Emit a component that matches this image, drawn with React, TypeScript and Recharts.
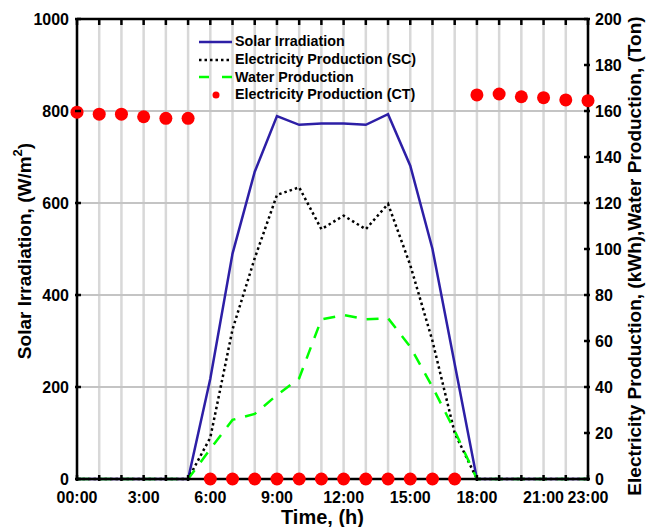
import { LineChart, Line, XAxis, YAxis, CartesianGrid, Legend, Label, ReferenceLine } from "recharts";

const hours = [0, 1, 2, 3, 4, 5, 6, 7, 8, 9, 10, 11, 12, 13, 14, 15, 16, 17, 18, 19, 20, 21, 22, 23];
const solarIrradiation = [0, 0, 0, 0, 0, 0, 218, 490, 668, 789, 770, 773, 773, 770, 793, 681, 500, 250, 0, 0, 0, 0, 0, 0];
const electricitySC = [0, 0, 0, 0, 0, 0, 18, 65, 96, 123.5, 126.8, 108.6, 114.5, 108.6, 119.6, 93, 60, 20, 0, 0, 0, 0, 0, 0];
const waterProduction = [0, 0, 0, 0, 0, 0, 13, 25.7, 28.3, 36.5, 43.8, 69.4, 71.3, 69.4, 69.9, 57.5, 40, 21, 0, 0, 0, 0, 0, 0];
const electricityCT = [159.5, 158.6, 158.6, 157.5, 156.8, 156.8, 0, 0, 0, 0, 0, 0, 0, 0, 0, 0, 0, 0, 167, 167.4, 166.2, 165.8, 164.8, 164.5];

const xLabels: Record<number, string> = {
  0: "00:00", 3: "3:00", 6: "6:00", 9: "9:00", 12: "12:00", 15: "15:00", 18: "18:00", 21: "21:00", 23: "23:00",
};
const leftTicks = [0, 200, 400, 600, 800, 1000];
const rightTicks = [0, 20, 40, 60, 80, 100, 120, 140, 160, 180, 200];

const data = hours.map((h, i) => ({
  hour: h,
  solar: solarIrradiation[i],
  sc: electricitySC[i],
  water: waterProduction[i],
  ct: electricityCT[i],
}));

const FONT = "'Liberation Sans', Arial, sans-serif";
const MARGIN = { top: 19, right: 0, bottom: 0, left: 17 };

// ticks point inward, labels drawn by hand; the top frame ticks are drawn here too.
// axes paint over the series here, so skip the bottom tick where a CT marker sits on it
const BottomTick = (props: any) => {
  const { x, y, payload } = props;
  const label = xLabels[payload.value];
  const covered = electricityCT[payload.value] === 0;
  return (
    <g>
      {!covered && <line x1={x} x2={x} y1={y} y2={y - 6} stroke="#000" strokeWidth={2.5} />}
      <line x1={x} x2={x} y1={MARGIN.top} y2={MARGIN.top + 6} stroke="#000" strokeWidth={2.5} />
      {label && (
        <text x={x} y={y + 22} textAnchor="middle" fontFamily={FONT} fontWeight="bold" fontSize={16} fill="#000">
          {label}
        </text>
      )}
    </g>
  );
};

const LeftTick = (props: any) => {
  const { x, y, payload } = props;
  return (
    <g>
      <line x1={x} x2={x + 6} y1={y} y2={y} stroke="#000" strokeWidth={2.5} />
      <text x={x - 6} y={y} dy={6} textAnchor="end" fontFamily={FONT} fontWeight="bold" fontSize={16} fill="#000">
        {payload.value}
      </text>
    </g>
  );
};

const RightTick = (props: any) => {
  const { x, y, payload } = props;
  return (
    <g>
      <line x1={x} x2={x - 6} y1={y} y2={y} stroke="#000" strokeWidth={2.5} />
      <text x={x + 5} y={y} dy={6} textAnchor="start" fontFamily={FONT} fontWeight="bold" fontSize={16} fill="#000">
        {payload.value}
      </text>
    </g>
  );
};

const legendItems = [
  { name: "Solar Irradiation", kind: "solid", color: "#2d1fa6" },
  { name: "Electricity Production (SC)", kind: "dot", color: "#000" },
  { name: "Water Production", kind: "dash", color: "#00ff00" },
  { name: "Electricity Production (CT)", kind: "marker", color: "#ff0000" },
];

const renderLegend = () => (
  <div style={{ fontFamily: FONT, fontWeight: "bold", fontSize: 14.3, color: "#000", lineHeight: "17.8px", textAlign: "left" }}>
    {legendItems.map((it) => (
      <div key={it.name} style={{ display: "flex", alignItems: "center", height: 17.8 }}>
        <svg width={36} height={12} style={{ marginRight: 2 }}>
          {it.kind === "solid" && <line x1={2} x2={35} y1={6} y2={6} stroke={it.color} strokeWidth={2.5} />}
          {it.kind === "dot" && <line x1={2} x2={35} y1={6} y2={6} stroke={it.color} strokeWidth={2.5} strokeDasharray="2.5 3" />}
          {it.kind === "dash" && <line x1={2} x2={35} y1={6} y2={6} stroke={it.color} strokeWidth={2.5} strokeDasharray="10 13" />}
          {it.kind === "marker" && <circle cx={19} cy={6} r={3.5} fill={it.color} />}
        </svg>
        <span>{it.name}</span>
      </div>
    ))}
  </div>
);

export default function App() {
  return (
    <div style={{ position: "absolute", left: 0, top: 0, background: "#fff" }}>
      <LineChart width={646} height={527} data={data} margin={MARGIN}>
        {/* vertical grid every hour, horizontal grid on the left ticks */}
        <CartesianGrid horizontal={false} stroke="#d8d8d8" strokeWidth={2.5} yAxisId="left" />
        <CartesianGrid vertical={false} stroke="#c4c4c4" strokeWidth={2} yAxisId="left" />
        <XAxis
          dataKey="hour"
          type="number"
          domain={[0, 23]}
          ticks={hours}
          interval={0}
          height={48}
          tickSize={0}
          tickLine={false}
          tick={<BottomTick />}
          axisLine={{ stroke: "#000", strokeWidth: 2.5 }}
        >
          <Label
            content={(p: any) => (
              <text x={p.viewBox.x + p.viewBox.width / 2 - 10} y={524} textAnchor="middle" fontFamily={FONT} fontWeight="bold" fontSize={20} fill="#000">
                Time, (h)
              </text>
            )}
          />
        </XAxis>
        <YAxis
          yAxisId="left"
          domain={[0, 1000]}
          ticks={leftTicks}
          interval={0}
          width={60}
          tickSize={0}
          tickLine={false}
          tick={<LeftTick />}
          axisLine={{ stroke: "#000", strokeWidth: 2.5 }}
        >
          <Label
            content={(p: any) => {
              const cx = 24;
              const cy = p.viewBox.y + p.viewBox.height / 2 + 2;
              return (
                <text x={cx} y={cy} transform={`rotate(-90 ${cx} ${cy})`} textAnchor="middle" dominantBaseline="central" fontFamily={FONT} fontWeight="bold" fontSize={19} fill="#000">
                  Solar Irradiation, (W/m<tspan fontSize={13} dy={-7}>2</tspan><tspan dy={7}>)</tspan>
                </text>
              );
            }}
          />
        </YAxis>
        <YAxis
          yAxisId="right"
          orientation="right"
          domain={[0, 200]}
          ticks={rightTicks}
          interval={0}
          width={58}
          tickSize={0}
          tickLine={false}
          tick={<RightTick />}
          axisLine={{ stroke: "#000", strokeWidth: 2.5 }}
        >
          <Label
            content={(p: any) => {
              const cx = 634;
              const cy = p.viewBox.y + p.viewBox.height / 2 + 7;
              return (
                <text x={cx} y={cy} transform={`rotate(-90 ${cx} ${cy})`} textAnchor="middle" dominantBaseline="central" fontFamily={FONT} fontWeight="bold" fontSize={19} fill="#000">
                  Electricity Production, (kWh),Water Production, (Ton)
                </text>
              );
            }}
          />
        </YAxis>
        {/* top frame line */}
        <ReferenceLine yAxisId="left" y={1000} stroke="#000" strokeWidth={2.5} />
        {/* vertical + center + middle so the legend takes no room from the plot */}
        <Legend
          layout="vertical"
          verticalAlign="middle"
          align="center"
          wrapperStyle={{ left: 197, top: 33, width: 240 }}
          content={renderLegend}
        />
        <Line
          yAxisId="left"
          dataKey="solar"
          name="Solar Irradiation"
          stroke="#2d1fa6"
          strokeWidth={2.5}
          dot={false}
          activeDot={false}
          isAnimationActive={false}
        />
        <Line
          yAxisId="right"
          dataKey="sc"
          name="Electricity Production (SC)"
          stroke="#000"
          strokeWidth={2.5}
          strokeDasharray="2.5 3"
          dot={false}
          activeDot={false}
          isAnimationActive={false}
        />
        <Line
          yAxisId="right"
          dataKey="water"
          name="Water Production"
          stroke="#00ff00"
          strokeWidth={2.5}
          strokeDasharray="12 10"
          dot={false}
          activeDot={false}
          isAnimationActive={false}
        />
        <Line
          yAxisId="right"
          dataKey="ct"
          name="Electricity Production (CT)"
          stroke="none"
          dot={{ r: 6.5, fill: "#ff0000", stroke: "none" }}
          activeDot={false}
          isAnimationActive={false}
        />
      </LineChart>
    </div>
  );
}
